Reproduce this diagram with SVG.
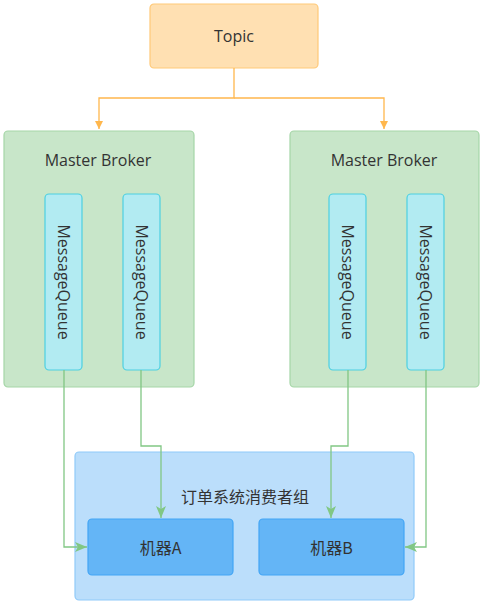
<svg xmlns="http://www.w3.org/2000/svg" width="485" height="604" viewBox="0 0 485 604">
<defs>
<style>
text{font-family:"Noto Sans CJK SC","Open Sans",sans-serif;font-size:16px;fill:#333;text-anchor:middle;dominant-baseline:central}
.lat{font-family:"Open Sans","Noto Sans CJK SC",sans-serif}
.topic{fill:#ffe0b2;stroke:#ffc978;stroke-width:1.2}
.broker{fill:#c8e6c9;stroke:#a5d6a7;stroke-width:1.2}
.mq{fill:#b2ebf2;stroke:#4dd0e1;stroke-width:1.2}
.group{fill:#bbdefb;stroke:#90caf9;stroke-width:1.2}
.machine{fill:#64b5f6;stroke:#42a5f5;stroke-width:1.2}
.o{fill:none;stroke:#ffb74d;stroke-width:1.3}
.g{fill:none;stroke:#81c784;stroke-width:1.3}
</style>
<marker id="ao" markerWidth="10" markerHeight="10" refX="8" refY="5" orient="auto" markerUnits="userSpaceOnUse"><path d="M0,1 L8,5 L0,9 Z" fill="#ffb74d"/></marker>
<marker id="ag" markerWidth="14" markerHeight="12" refX="12" refY="6" orient="auto" markerUnits="userSpaceOnUse"><path d="M0,1 L12,6 L0,11 L3,6 Z" fill="#81c784"/></marker>
</defs>
<g id="topic"><rect class="topic" x="150" y="4" width="168" height="64" rx="4"/><text class="lat" x="234" y="36">Topic</text></g>
<g id="broker1"><rect class="broker" x="4" y="131" width="190" height="256" rx="4"/><text class="lat" x="98" y="160">Master Broker</text></g>
<g id="broker2"><rect class="broker" x="290" y="131" width="189" height="256" rx="4"/><text class="lat" x="384" y="160">Master Broker</text></g>
<g id="mq1"><rect class="mq" x="45" y="194" width="37" height="176" rx="4"/><text class="lat" transform="translate(63.5 282) rotate(90)">MessageQueue</text></g>
<g id="mq2"><rect class="mq" x="123" y="194" width="37" height="176" rx="4"/><text class="lat" transform="translate(141.5 282) rotate(90)">MessageQueue</text></g>
<g id="mq3"><rect class="mq" x="329" y="194" width="37" height="176" rx="4"/><text class="lat" transform="translate(347.5 282) rotate(90)">MessageQueue</text></g>
<g id="mq4"><rect class="mq" x="407" y="194" width="37" height="176" rx="4"/><text class="lat" transform="translate(425.5 282) rotate(90)">MessageQueue</text></g>
<g id="group"><rect class="group" x="75" y="452" width="339" height="148" rx="4"/><text x="245" y="496">订单系统消费者组</text></g>
<g id="machineA"><rect class="machine" x="88" y="519" width="145" height="56" rx="4"/><text x="160.5" y="547">机器A</text></g>
<g id="machineB"><rect class="machine" x="259" y="519" width="145" height="56" rx="4"/><text x="331.5" y="547">机器B</text></g>
<g id="connectors">
<path class="o" d="M234,68 V98 H99 V129" marker-end="url(#ao)"/>
<path class="o" d="M234,98 H384 V129" marker-end="url(#ao)"/>
<path class="g" d="M64,370 V547 H87" marker-end="url(#ag)"/>
<path class="g" d="M141,370 V446 H161 V518" marker-end="url(#ag)"/>
<path class="g" d="M348,370 V446 H331 V518" marker-end="url(#ag)"/>
<path class="g" d="M426,370 V547 H405" marker-end="url(#ag)"/>
</g>
</svg>
